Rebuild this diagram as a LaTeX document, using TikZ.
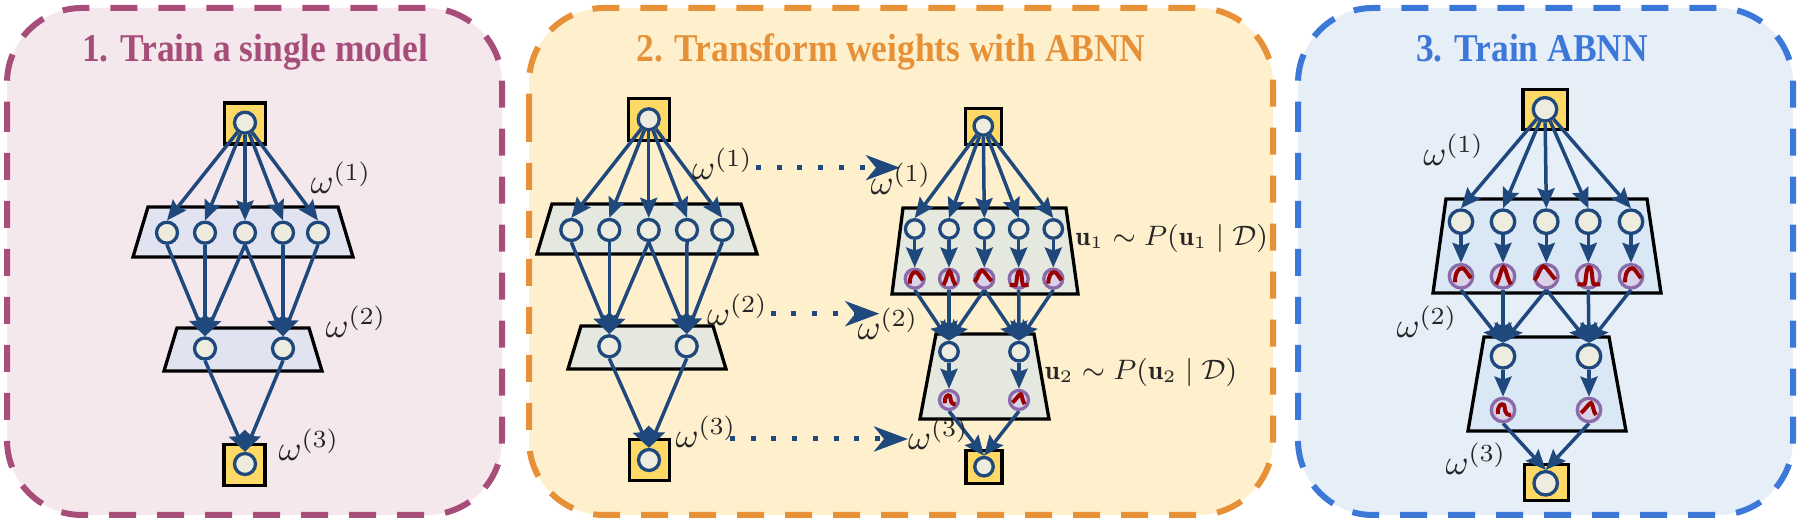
\documentclass[tikz,border=0pt]{standalone}
\usepackage{amsmath}
\usepackage{amssymb}
\usepackage{fontspec}
\usepackage{tikz}
\usetikzlibrary{arrows.meta}
\newfontfamily\titlefont[FakeStretch=.9]{Liberation Serif}
\pgfdeclarelayer{boxlayer}
\pgfdeclarelayer{edgelayer}
\pgfdeclarelayer{nodelayer}
\pgfsetlayers{boxlayer,edgelayer,nodelayer,main}
\definecolor{edgeblue}{HTML}{1F497D}
\definecolor{plum}{HTML}{A64D79}
\definecolor{plumfill}{HTML}{F5E8ED}
\definecolor{plumbox}{HTML}{E1E4F0}
\definecolor{amber}{HTML}{E69138}
\definecolor{amberfill}{HTML}{FFF0CD}
\definecolor{amberbox}{HTML}{E5E8DE}
\definecolor{sky}{HTML}{3C78D8}
\definecolor{skyfill}{HTML}{E6EEF8}
\definecolor{skybox}{HTML}{DAE7F5}
\definecolor{portfill}{HTML}{FFD966}
\definecolor{unitfill}{HTML}{EEEBDF}
\definecolor{probfill}{HTML}{D9D2E9}
\definecolor{probline}{HTML}{8A6AA8}
\tikzstyle{panel}=[line width=0.6mm, dash pattern=on 2.7mm off 2.1mm, rounded corners=7.5mm]
\tikzstyle{title}=[font=\titlefont\fontsize{11.2}{12}\selectfont\bfseries, inner sep=0, anchor=base]
\tikzstyle{layerbox}=[draw=black, line width=0.33mm, line join=miter]
\tikzstyle{port}=[rectangle, fill=portfill, draw=black, line width=0.33mm, inner sep=0]
\tikzstyle{unit}=[circle, fill=unitfill, draw=edgeblue, line width=0.33mm, inner sep=0, minimum size=2.1mm]
\tikzstyle{prob}=[circle, fill=probfill, draw=probline, line width=0.33mm, inner sep=0, minimum size=2.1mm]
\tikzstyle{weight}=[font=\fontsize{9.6}{11}\selectfont, inner sep=0, text=black!85]
\tikzstyle{posterior}=[font=\fontsize{7.7}{10}\selectfont, inner sep=0, text=black!85]
\tikzstyle{arrow}=[-{Stealth[length=2mm,width=1.7mm,inset=.3mm]}, draw=edgeblue, line width=0.35mm]
\tikzstyle{dotarrow}=[-{Stealth[length=3.4mm,width=2.5mm,inset=1mm]}, draw=edgeblue, line width=0.5mm, dash pattern=on .5mm off 1.57mm]
\tikzstyle{bell}=[draw=red!60!black, line width=0.4mm]
\newcommand{\bellA}[2]{\draw [style=bell, shift={(#1)}, scale=#2] (-6,6) .. controls (-6,-3) and (-3,-8) .. (1,-8) .. controls (4,-8) and (6,-3) .. (10,2);}
\newcommand{\bellB}[2]{\draw [style=bell, shift={(#1)}, scale=#2] (-7,8) .. controls (-3,3) and (-2,-9) .. (.5,-9) .. controls (3,-9) and (4,3) .. (8,8);}
\newcommand{\bellC}[2]{\draw [style=bell, shift={(#1)}, scale=#2] (-12,4) .. controls (-8,0) and (-6,-10) .. (-3,-10) .. controls (0,-10) and (4,-2) .. (9,3);}
\newcommand{\bellD}[2]{\draw [style=bell, shift={(#1)}, scale=#2] (-11,8) -- (-4,8) .. controls (-2,8) and (-3,-9) .. (1,-9) .. controls (5,-9) and (3,8) .. (6,8) -- (12,8);}
\newcommand{\bellE}[2]{\draw [style=bell, shift={(#1)}, scale=#2] (-5,4) .. controls (-6,-5) and (-1,-7) .. (1,-5) .. controls (3,-2) and (0,5) .. (8,5);}
\newcommand{\bellF}[2]{\draw [style=bell, shift={(#1)}, scale=#2] (-8,3) .. controls (-4,0) and (0,-7) .. (2,-7) .. controls (4,-7) and (4,2) .. (7,5);}

\begin{document}
\begin{tikzpicture}[x=0.1mm, y=-0.1mm]
    \useasboundingbox (0,0) rectangle (1802,526);
    \begin{pgfonlayer}{boxlayer}
        \draw [style=panel, draw=plum, fill=plumfill] (7,105) -- (7,515) -- (502,515) -- (502,8) -- (7,8) -- (7,105);
        \draw [style=panel, draw=amber, fill=amberfill] (529,115) -- (529,515) -- (1273,515) -- (1273,8) -- (529,8) -- (529,115);
        \draw [style=panel, draw=sky, fill=skyfill] (1298,105) -- (1298,515) -- (1793,515) -- (1793,8) -- (1298,8) -- (1298,105);

        \draw [style=layerbox, fill=plumbox] (148,207) -- (338,207) -- (353,257) -- (133,257) -- cycle;
        \draw [style=layerbox, fill=plumbox] (177,328) -- (309,328) -- (322,371) -- (164,371) -- cycle;

        \draw [style=layerbox, fill=amberbox] (552,204) -- (741,204) -- (757,254) -- (537,254) -- cycle;
        \draw [style=layerbox, fill=amberbox] (581,326) -- (713,326) -- (726,369) -- (568,369) -- cycle;
        \draw [style=layerbox, fill=amberbox] (903,208) -- (1066,208) -- (1078,294) -- (892,294) -- cycle;
        \draw [style=layerbox, fill=amberbox] (936,334) -- (1034,334) -- (1049,419) -- (920,419) -- cycle;

        \draw [style=layerbox, fill=skybox] (1446,199) -- (1647,199) -- (1661,293) -- (1433,293) -- cycle;
        \draw [style=layerbox, fill=skybox] (1484,337) -- (1609,337) -- (1626,431) -- (1468,431) -- cycle;

        \node [style=port, minimum width=4.1mm, minimum height=4.1mm] (sq1) at (245,123.5) {};
        \node [style=port, minimum width=4.1mm, minimum height=4.1mm] (sq1b) at (244.5,465) {};
        \node [style=port, minimum width=4.05mm, minimum height=4.2mm] (sq2) at (649,119.7) {};
        \node [style=port, minimum width=4.05mm, minimum height=4.1mm] (sq2b) at (649.5,460) {};
        \node [style=port, minimum width=3.6mm, minimum height=3.6mm] (sq3) at (983.3,126.7) {};
        \node [style=port, minimum width=3.6mm, minimum height=3.3mm] (sq3b) at (984,466.7) {};
        \node [style=port, minimum width=4.45mm, minimum height=4mm] (sq4) at (1545.3,109.7) {};
        \node [style=port, minimum width=4.4mm, minimum height=3.6mm] (sq4b) at (1546.5,482.8) {};
    \end{pgfonlayer}
    \begin{pgfonlayer}{nodelayer}
        % first network
        \node [style=unit] (in1) at (245,122.7) {};
        \node [style=unit] (a11) at (167,232.7) {};
        \node [style=unit] (a12) at (205,232.7) {};
        \node [style=unit] (a13) at (245,232.7) {};
        \node [style=unit] (a14) at (283,232.7) {};
        \node [style=unit] (a15) at (318,232.7) {};
        \node [style=unit] (b11) at (205,348.5) {};
        \node [style=unit] (b12) at (283,348.5) {};
        \node [style=unit] (out1) at (245,464) {};

        % second network
        \node [style=unit] (in2) at (648.7,119.3) {};
        \node [style=unit] (a21) at (571.3,230) {};
        \node [style=unit] (a22) at (609.3,230) {};
        \node [style=unit] (a23) at (648.7,230) {};
        \node [style=unit] (a24) at (687,230) {};
        \node [style=unit] (a25) at (722.3,230) {};
        \node [style=unit] (b21) at (609.3,346.3) {};
        \node [style=unit] (b22) at (686.7,346.3) {};
        \node [style=unit] (out2) at (649,460) {};

        % third network
        \node [style=unit, minimum size=1.85mm] (in3) at (983.3,126) {};
        \node [style=unit, minimum size=1.85mm] (a31) at (914.7,229) {};
        \node [style=unit, minimum size=1.85mm] (a32) at (949,229) {};
        \node [style=unit, minimum size=1.85mm] (a33) at (984.3,229) {};
        \node [style=unit, minimum size=1.85mm] (a34) at (1018.7,229) {};
        \node [style=unit, minimum size=1.85mm] (a35) at (1053.3,229) {};
        \node [style=prob, minimum size=1.9mm] (p31) at (914.7,278.7) {};
        \node [style=prob, minimum size=1.9mm] (p32) at (949,278.7) {};
        \node [style=prob, minimum size=1.9mm] (p33) at (984.3,278.7) {};
        \node [style=prob, minimum size=1.9mm] (p34) at (1018.7,278.7) {};
        \node [style=prob, minimum size=1.9mm] (p35) at (1053.3,278.7) {};
        \node [style=unit, minimum size=1.85mm] (b31) at (949,351.7) {};
        \node [style=unit, minimum size=1.85mm] (b32) at (1019,351.7) {};
        \node [style=prob, minimum size=1.9mm] (q31) at (949,400) {};
        \node [style=prob, minimum size=1.9mm] (q32) at (1019,400) {};
        \node [style=unit, minimum size=1.85mm] (out3) at (984,466.7) {};

        % fourth network
        \node [style=unit, minimum size=2.35mm] (in4) at (1545,109.3) {};
        \node [style=unit, minimum size=2.35mm] (a41) at (1461,221.7) {};
        \node [style=unit, minimum size=2.35mm] (a42) at (1503,221.7) {};
        \node [style=unit, minimum size=2.35mm] (a43) at (1546.3,221.7) {};
        \node [style=unit, minimum size=2.35mm] (a44) at (1588.3,221.7) {};
        \node [style=unit, minimum size=2.35mm] (a45) at (1631,221.7) {};
        \node [style=prob, minimum size=2.35mm] (p41) at (1461,276.3) {};
        \node [style=prob, minimum size=2.35mm] (p42) at (1503,276.3) {};
        \node [style=prob, minimum size=2.35mm] (p43) at (1546.3,276.3) {};
        \node [style=prob, minimum size=2.35mm] (p44) at (1588.3,276.3) {};
        \node [style=prob, minimum size=2.35mm] (p45) at (1631,276.3) {};
        \node [style=unit, minimum size=2.35mm] (b41) at (1503,356.3) {};
        \node [style=unit, minimum size=2.35mm] (b42) at (1589,356.3) {};
        \node [style=prob, minimum size=2.35mm] (q41) at (1503,410) {};
        \node [style=prob, minimum size=2.35mm] (q42) at (1589,410) {};
        \node [style=unit, minimum size=2.35mm] (out4) at (1545.7,483.3) {};

        \bellA{p31}{.82} \bellB{p32}{.82} \bellC{p33}{.82} \bellD{p34}{.82} \bellA{p35}{.82}
        \bellE{q31}{.82} \bellF{q32}{.82}
        \bellA{p41}{1} \bellB{p42}{1} \bellC{p43}{1} \bellD{p44}{1} \bellA{p45}{1}
        \bellE{q41}{1} \bellF{q42}{1}

        \node [style=title, text=plum] (title1) at (255,62) {1. Train a single model};
        \node [style=title, text=amber] (title2) at (891,62) {2. Transform weights with ABNN};
        \node [style=title, text=sky] (title3) at (1532,62) {3. Train ABNN};

        \node [style=weight] (w11) at (341,178) {$\omega^{(1)}$};
        \node [style=weight] (w12) at (356,322) {$\omega^{(2)}$};
        \node [style=weight] (w13) at (309,445) {$\omega^{(3)}$};
        \node [style=weight] (w21) at (722.5,163.5) {$\omega^{(1)}$};
        \node [style=weight] (w22) at (737.5,310) {$\omega^{(2)}$};
        \node [style=weight] (w23) at (706,431.5) {$\omega^{(3)}$};
        \node [style=weight] (w31) at (901,178.5) {$\omega^{(1)}$};
        \node [style=weight] (w32) at (888,323.5) {$\omega^{(2)}$};
        \node [style=weight] (w33) at (938.5,434) {$\omega^{(3)}$};
        \node [style=weight] (w41) at (1453.7,149.5) {$\omega^{(1)}$};
        \node [style=weight] (w42) at (1427,321.7) {$\omega^{(2)}$};
        \node [style=weight] (w43) at (1476,458.7) {$\omega^{(3)}$};
        \node [style=posterior] (post1) at (1171.7,238) {$\mathbf{u}_1\sim P(\mathbf{u}_1\mid\mathcal{D})$};
        \node [style=posterior] (post2) at (1141,372) {$\mathbf{u}_2\sim P(\mathbf{u}_2\mid\mathcal{D})$};

        \coordinate (d1s) at (756,167.7);
        \coordinate (d1e) at (900,167.7);
        \coordinate (d2s) at (770.7,313.7);
        \coordinate (d2e) at (879.3,313.7);
        \coordinate (d3s) at (730,439);
        \coordinate (d3e) at (908,439);
    \end{pgfonlayer}
    \begin{pgfonlayer}{edgelayer}
        \draw [style=arrow] (in1) to (a11.north);
        \draw [style=arrow] (in1) to (a12.north);
        \draw [style=arrow] (in1) to (a13.north);
        \draw [style=arrow] (in1) to (a14.north);
        \draw [style=arrow] (in1) to (a15.north);
        \draw [style=arrow] (a11.south) to (b11.north);
        \draw [style=arrow] (a12.south) to (b11.north);
        \draw [style=arrow] (a13.south) to (b11.north);
        \draw [style=arrow] (a13.south) to (b12.north);
        \draw [style=arrow] (a14.south) to (b12.north);
        \draw [style=arrow] (a15.south) to (b12.north);
        \draw [style=arrow] (b11.south) to (out1.north);
        \draw [style=arrow] (b12.south) to (out1.north);

        \draw [style=arrow] (in2) to (a21.north);
        \draw [style=arrow] (in2) to (a22.north);
        \draw [style=arrow] (in2) to (a23.north);
        \draw [style=arrow] (in2) to (a24.north);
        \draw [style=arrow] (in2) to (a25.north);
        \draw [style=arrow] (a21.south) to (b21.north);
        \draw [style=arrow] (a22.south) to (b21.north);
        \draw [style=arrow] (a23.south) to (b21.north);
        \draw [style=arrow] (a23.south) to (b22.north);
        \draw [style=arrow] (a24.south) to (b22.north);
        \draw [style=arrow] (a25.south) to (b22.north);
        \draw [style=arrow] (b21.south) to (out2.north);
        \draw [style=arrow] (b22.south) to (out2.north);

        \draw [style=arrow] (in3) to (a31.north);
        \draw [style=arrow] (in3) to (a32.north);
        \draw [style=arrow] (in3) to (a33.north);
        \draw [style=arrow] (in3) to (a34.north);
        \draw [style=arrow] (in3) to (a35.north);
        \draw [style=arrow] (a31.south) to (p31.north);
        \draw [style=arrow] (a32.south) to (p32.north);
        \draw [style=arrow] (a33.south) to (p33.north);
        \draw [style=arrow] (a34.south) to (p34.north);
        \draw [style=arrow] (a35.south) to (p35.north);
        \draw [style=arrow] (p31.south) to (b31.north);
        \draw [style=arrow] (p32.south) to (b31.north);
        \draw [style=arrow] (p33.south) to (b31.north);
        \draw [style=arrow] (p33.south) to (b32.north);
        \draw [style=arrow] (p34.south) to (b32.north);
        \draw [style=arrow] (p35.south) to (b32.north);
        \draw [style=arrow] (b31.south) to (q31.north);
        \draw [style=arrow] (b32.south) to (q32.north);
        \draw [style=arrow] (q31.south) to (out3.north);
        \draw [style=arrow] (q32.south) to (out3.north);

        \draw [style=arrow] (in4) to (a41.north);
        \draw [style=arrow] (in4) to (a42.north);
        \draw [style=arrow] (in4) to (a43.north);
        \draw [style=arrow] (in4) to (a44.north);
        \draw [style=arrow] (in4) to (a45.north);
        \draw [style=arrow] (a41.south) to (p41.north);
        \draw [style=arrow] (a42.south) to (p42.north);
        \draw [style=arrow] (a43.south) to (p43.north);
        \draw [style=arrow] (a44.south) to (p44.north);
        \draw [style=arrow] (a45.south) to (p45.north);
        \draw [style=arrow] (p41.south) to (b41.north);
        \draw [style=arrow] (p42.south) to (b41.north);
        \draw [style=arrow] (p43.south) to (b41.north);
        \draw [style=arrow] (p43.south) to (b42.north);
        \draw [style=arrow] (p44.south) to (b42.north);
        \draw [style=arrow] (p45.south) to (b42.north);
        \draw [style=arrow] (b41.south) to (q41.north);
        \draw [style=arrow] (b42.south) to (q42.north);
        \draw [style=arrow] (q41.south) to (out4.north);
        \draw [style=arrow] (q42.south) to (out4.north);

        \draw [style=dotarrow] (d1s) to (d1e);
        \draw [style=dotarrow] (d2s) to (d2e);
        \draw [style=dotarrow] (d3s) to (d3e);
    \end{pgfonlayer}
\end{tikzpicture}
\end{document}
